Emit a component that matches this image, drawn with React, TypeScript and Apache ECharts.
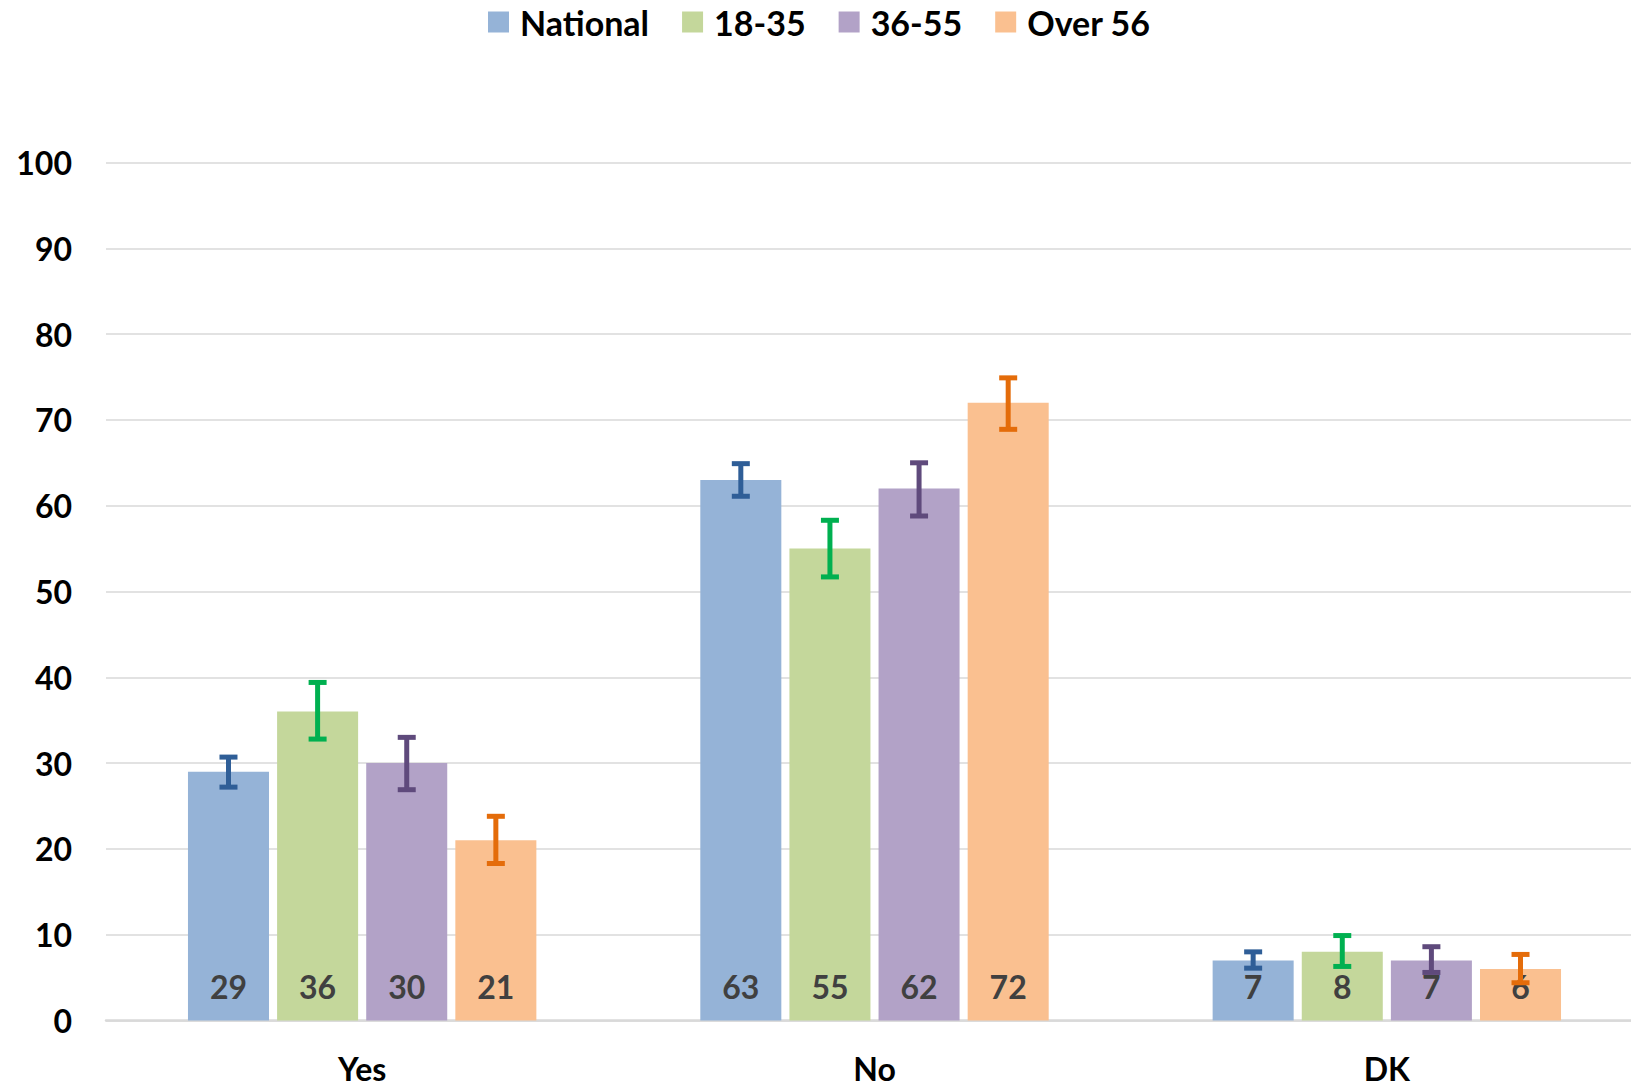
import React, { useEffect, useRef } from "react";
import * as echarts from "echarts";

const categories = ["Yes", "No", "DK"];
const seriesNames = ["National", "18-35", "36-55", "Over 56"];
const nationalValues = [29, 63, 7];
const youngValues = [36, 55, 8];
const middleValues = [30, 62, 7];
const olderValues = [21, 72, 6];
// error bar ranges [low, high] per category
const nationalErr = [[27.2, 30.7], [61.1, 64.9], [6.1, 8.0]];
const youngErr = [[32.8, 39.4], [51.7, 58.3], [6.3, 9.9]];
const middleErr = [[26.9, 33.0], [58.8, 65.0], [5.6, 8.6]];
const olderErr = [[18.3, 23.8], [68.9, 74.9], [4.4, 7.7]];
const yTicks = [0, 10, 20, 30, 40, 50, 60, 70, 80, 90, 100];

const barColors = ["#95B3D7", "#C4D79B", "#B2A2C7", "#FAC090"];
const errColors = ["#2F5E97", "#00B050", "#5F4A7C", "#E46C0A"];

const CAT_GAP = 0.32;
const BAR_GAP = 0.1;

export default function App() {
  const ref = useRef<HTMLDivElement>(null);
  useEffect(() => {
    document.body.style.margin = "0";
    document.body.style.overflow = "hidden";
    document.documentElement.style.overflow = "hidden";
    const chart = echarts.init(ref.current!, null, { renderer: "svg" });
    const values = [nationalValues, youngValues, middleValues, olderValues];
    const errs = [nationalErr, youngErr, middleErr, olderErr];
    const font = "Lato";

    const barSeries = seriesNames.map((name, i) => ({
      name,
      type: "bar",
      data: values[i],
      barCategoryGap: CAT_GAP * 100 + "%",
      barGap: BAR_GAP * 100 + "%",
      itemStyle: { color: barColors[i] },
      label: {
        show: true,
        position: "insideBottom",
        distance: 18,
        fontSize: 32,
        fontWeight: "bold",
        fontFamily: font,
        color: "#404040",
      },
      z: 2,
    }));

    const errSeries = seriesNames.map((name, i) => ({
      name: "err-" + name,
      type: "custom",
      z: 5,
      data: errs[i].map((e, ci) => [ci, e[0], e[1]]),
      encode: { x: 0, y: [1, 2] },
      renderItem: (params: any, api: any) => {
        const ci = api.value(0);
        const lo = api.value(1);
        const hi = api.value(2);
        const top = api.coord([ci, hi]);
        const bot = api.coord([ci, lo]);
        const band = api.size([1, 0])[0];
        const barW = (band * (1 - CAT_GAP)) / (4 + 3 * BAR_GAP);
        const x = top[0] + (i - 1.5) * barW * (1 + BAR_GAP);
        const half = 9;
        const style = { stroke: errColors[i], lineWidth: 5, lineCap: "butt" };
        return {
          type: "group",
          children: [
            { type: "line", shape: { x1: x, y1: top[1], x2: x, y2: bot[1] }, style },
            { type: "line", shape: { x1: x - half, y1: top[1], x2: x + half, y2: top[1] }, style },
            { type: "line", shape: { x1: x - half, y1: bot[1], x2: x + half, y2: bot[1] }, style },
          ],
        };
      },
    }));

    chart.setOption({
      animation: false,
      textStyle: { fontFamily: font },
      legend: {
        data: seriesNames,
        top: 0,
        left: 483,
        icon: "rect",
        itemWidth: 21,
        itemHeight: 21,
        itemGap: 33,
        textStyle: { fontSize: 34, fontWeight: "bold", color: "#000", fontFamily: font, padding: [0, 0, 0, 6] },
      },
      grid: { left: 106, right: 0, top: 162.5, bottom: 66.5 },
      xAxis: {
        type: "category",
        data: categories,
        axisLine: { lineStyle: { color: "#D9D9D9", width: 2.5 } },
        axisTick: { show: false },
        axisLabel: { margin: 32, fontSize: 32, fontWeight: "bold", color: "#000", fontFamily: font },
      },
      yAxis: {
        type: "value",
        min: yTicks[0],
        max: yTicks[yTicks.length - 1],
        interval: yTicks[1] - yTicks[0],
        axisLine: { show: false },
        axisTick: { show: false },
        axisLabel: { margin: 34, fontSize: 32, fontWeight: "bold", color: "#000", fontFamily: font },
        splitLine: { lineStyle: { color: "#D9D9D9", width: 1.5 } },
      },
      series: [...barSeries, ...errSeries],
    });
    return () => chart.dispose();
  }, []);
  return <div ref={ref} style={{ width: 1643, height: 1087 }} />;
}
